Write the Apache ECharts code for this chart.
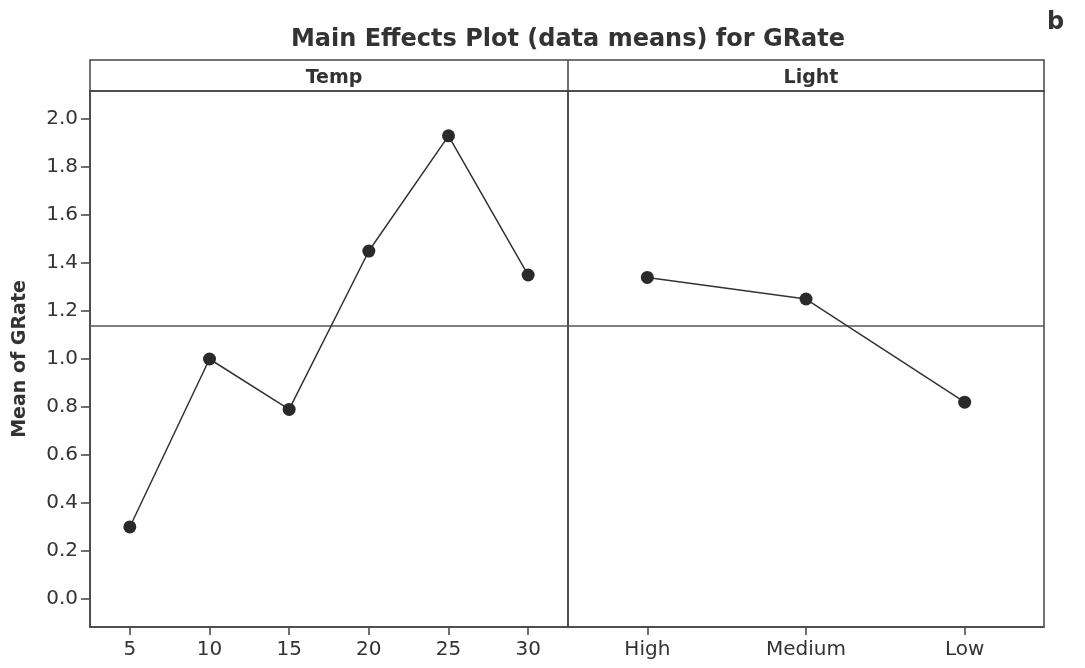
<!DOCTYPE html>
<html>
<head>
<meta charset="utf-8">
<script src="https://cdn.jsdelivr.net/npm/echarts@6/dist/echarts.min.js"></script>
<style>html,body{margin:0;padding:0;background:#fff}#c{width:1085px;height:668px}</style>
</head>
<body>
<div id="c"></div>
<script>
var tempCats = ['5', '10', '15', '20', '25', '30'];
var tempMeans = [0.30, 1.00, 0.79, 1.45, 1.93, 1.35];
var lightCats = ['High', 'Medium', 'Low'];
var lightMeans = [1.34, 1.25, 0.82];
var grandMean = 1.137;
var yTicks = [0.0, 0.2, 0.4, 0.6, 0.8, 1.0, 1.2, 1.4, 1.6, 1.8, 2.0];
var yMin = -0.117, yMax = 2.117;

var FONT = 'DejaVu Sans';
var TXT = '#333';
var LINE = '#444';

var chart = echarts.init(document.getElementById('c'));
var lineStyle = {color: '#333', width: 1.5};
var itemStyle = {color: '#2a2a2a'};
var markLine = {
  silent: true, symbol: 'none', label: {show: false},
  lineStyle: {color: '#555', width: 1.5, type: 'solid'},
  data: [{yAxis: grandMean}]
};
function xAxis(idx, cats) {
  return {
    type: 'category', gridIndex: idx, data: cats, boundaryGap: true,
    axisLine: {show: true, onZero: false, lineStyle: {color: LINE, width: 1.5}},
    axisTick: {show: true, alignWithLabel: true, length: 8, lineStyle: {color: LINE, width: 1.5}},
    axisLabel: {fontFamily: FONT, fontSize: 20, color: TXT, margin: 13},
    splitLine: {show: false}
  };
}
function yAxis(idx, showIt) {
  return {
    type: 'value', gridIndex: idx, min: yMin, max: yMax,
    name: showIt ? 'Mean of GRate' : '', nameLocation: 'middle', nameGap: 60, nameRotate: 90,
    nameTextStyle: {fontFamily: FONT, fontSize: 19, fontWeight: 'bold', color: TXT},
    axisLine: {show: showIt, onZero: false, lineStyle: {color: LINE, width: 1.5}},
    axisTick: {show: showIt, length: 9, customValues: yTicks, lineStyle: {color: LINE, width: 1.5}},
    axisLabel: {show: showIt, customValues: yTicks, fontFamily: FONT, fontSize: 20, color: TXT, margin: 12,
      formatter: function (v) { return v.toFixed(1); }},
    splitLine: {show: false}
  };
}
chart.setOption({
  animation: false,
  backgroundColor: '#fff',
  title: [
    {text: 'Main Effects Plot (data means) for GRate', left: 563, textAlign: 'center', top: 23,
      textStyle: {fontFamily: FONT, fontSize: 24, fontWeight: 'bold', color: TXT}},
    {text: 'b', left: 1042, top: 6, textStyle: {fontFamily: FONT, fontSize: 24, fontWeight: 'bold', color: TXT}},
    {text: 'Temp', left: 329, textAlign: 'center', top: 64,
      textStyle: {fontFamily: FONT, fontSize: 19, fontWeight: 'bold', color: TXT}},
    {text: 'Light', left: 806, textAlign: 'center', top: 64,
      textStyle: {fontFamily: FONT, fontSize: 19, fontWeight: 'bold', color: TXT}}
  ],
  graphic: [
    {type: 'rect', shape: {x: 90, y: 60, width: 954, height: 31},
      style: {fill: 'none', stroke: LINE, lineWidth: 1.5}, z: 10},
    {type: 'line', shape: {x1: 568, y1: 60, x2: 568, y2: 91},
      style: {stroke: LINE, lineWidth: 1.5}, z: 10}
  ],
  grid: [
    {left: 90, right: 517, top: 91, bottom: 41, show: true, borderColor: LINE, borderWidth: 1.5, backgroundColor: 'transparent'},
    {left: 568, right: 41, top: 91, bottom: 41, show: true, borderColor: LINE, borderWidth: 1.5, backgroundColor: 'transparent'}
  ],
  xAxis: [xAxis(0, tempCats), xAxis(1, lightCats)],
  yAxis: [yAxis(0, true), yAxis(1, false)],
  series: [
    {type: 'line', xAxisIndex: 0, yAxisIndex: 0, data: tempMeans, symbol: 'circle', symbolSize: 13,
      lineStyle: lineStyle, itemStyle: itemStyle, markLine: markLine, z: 5},
    {type: 'line', xAxisIndex: 1, yAxisIndex: 1, data: lightMeans, symbol: 'circle', symbolSize: 13,
      lineStyle: lineStyle, itemStyle: itemStyle, markLine: markLine, z: 5}
  ]
});
</script>
</body>
</html>
